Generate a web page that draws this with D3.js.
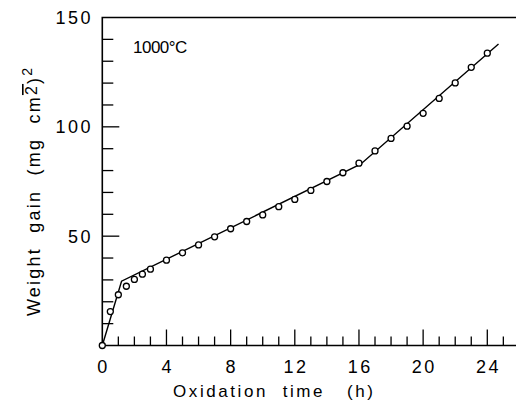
<!DOCTYPE html>
<html>
<head>
<meta charset="utf-8">
<script src="https://cdn.jsdelivr.net/npm/d3@7"></script>
<style>
  body { margin: 0; background: #fff; }
  svg { display: block; }
  text { font-family: "Liberation Sans", Arial, sans-serif; fill: #000; white-space: pre; }
</style>
</head>
<body>
<svg width="516" height="406"></svg>
<script>
// measured points
var times = [0, 0.5, 1, 1.5, 2, 2.5, 3, 4, 5, 6, 7, 8, 9, 10, 11, 12, 13, 14, 15, 16, 17, 18, 19, 20, 21, 22, 23, 24];
var gain = [0, 15.5, 23.2, 27.1, 30.2, 32.6, 34.9, 39, 42.4, 46, 49.7, 53.4, 56.7, 59.7, 63.5, 66.8, 70.9, 75, 79, 83.4, 89, 94.7, 100.3, 106.2, 113, 120.1, 127.2, 133.7];
// fitted line segments
var fitTime = [0, 1.2, 16.1, 24.7];
var fitGain = [0, 29.4, 82.9, 137.9];
var xTicks = [0, 4, 8, 12, 16, 20, 24];
var yTicks = [50, 100, 150];

function drawChart() {
  var svg = d3.select('svg');
  var x = d3.scaleLinear().domain([0, 24]).range([102.3, 487.3]);
  var y = d3.scaleLinear().domain([0, 150]).range([345.5, 17.5]);
  var xEnd = 520;

  var g = svg.append('g');

  // frame
  g.append('path')
    .attr('d', 'M' + xEnd + ',' + y(150) + 'H' + x(0) + 'V' + y(0) + 'H' + xEnd)
    .attr('fill', 'none')
    .attr('stroke', '#000')
    .attr('stroke-width', 1.6);

  // x ticks (inside, every hour, long every 4)
  var xMinor = d3.range(1, 26);
  g.selectAll('.xt')
    .data(xMinor)
    .enter()
    .append('line')
    .attr('x1', function (d) { return x(d); })
    .attr('x2', function (d) { return x(d); })
    .attr('y1', y(0))
    .attr('y2', function (d) { return y(0) - (d % 4 === 0 ? 16 : 9); })
    .attr('stroke', '#000')
    .attr('stroke-width', 1.3);

  // y ticks (inside, every 10, long every 50)
  var yMinor = d3.range(10, 150, 10);
  g.selectAll('.yt')
    .data(yMinor)
    .enter()
    .append('line')
    .attr('x1', x(0))
    .attr('x2', function (d) { return x(0) + (d % 50 === 0 ? 17 : 11); })
    .attr('y1', function (d) { return y(d); })
    .attr('y2', function (d) { return y(d); })
    .attr('stroke', '#000')
    .attr('stroke-width', 1.3);

  // tick labels
  g.selectAll('.xl')
    .data(xTicks)
    .enter()
    .append('text')
    .attr('x', function (d) { return x(d) + 1.2; })
    .attr('y', 373)
    .attr('text-anchor', 'middle')
    .attr('font-size', 18)
    .attr('letter-spacing', 2.5)
    .text(function (d) { return d; });

  g.selectAll('.yl')
    .data(yTicks)
    .enter()
    .append('text')
    .attr('x', 93)
    .attr('y', function (d) { return y(d) + 6.5; })
    .attr('text-anchor', 'end')
    .attr('font-size', 18)
    .attr('letter-spacing', 2.5)
    .text(function (d) { return d; });

  // axis titles
  g.append('text')
    .attr('x', 173)
    .attr('y', 397)
    .attr('font-size', 17)
    .attr('textLength', 200)
    .attr('lengthAdjust', 'spacing')
    .text('Oxidation  time   (h)');

  var yl = g.append('text')
    .attr('transform', 'translate(40,316) rotate(-90)')
    .attr('font-size', 18)
    .attr('letter-spacing', 2.2);
  yl.append('tspan').text('Weight  gain  (mg  cm');
  yl.append('tspan').attr('font-size', 16).attr('dy', -3).attr('text-decoration', 'overline').text('2');
  yl.append('tspan').attr('dy', 3).text(')');
  yl.append('tspan').attr('font-size', 14).attr('dy', -8).text('2');

  g.append('text')
    .attr('x', 133)
    .attr('y', 53)
    .attr('font-size', 17)
    .attr('letter-spacing', -0.5)
    .text('1000\u00b0C');

  // fitted line
  var fit = fitTime.map(function (t, i) { return [t, fitGain[i]]; });
  g.append('path')
    .datum(fit)
    .attr('d', d3.line()
      .x(function (d) { return x(d[0]); })
      .y(function (d) { return y(d[1]); }))
    .attr('fill', 'none')
    .attr('stroke', '#000')
    .attr('stroke-width', 1.4);

  // points
  g.selectAll('circle')
    .data(times)
    .enter()
    .append('circle')
    .attr('cx', function (d) { return x(d); })
    .attr('cy', function (d, i) { return y(gain[i]); })
    .attr('r', 3)
    .attr('fill', '#fff')
    .attr('stroke', '#000')
    .attr('stroke-width', 1.3);
}

drawChart();
</script>
</body>
</html>
